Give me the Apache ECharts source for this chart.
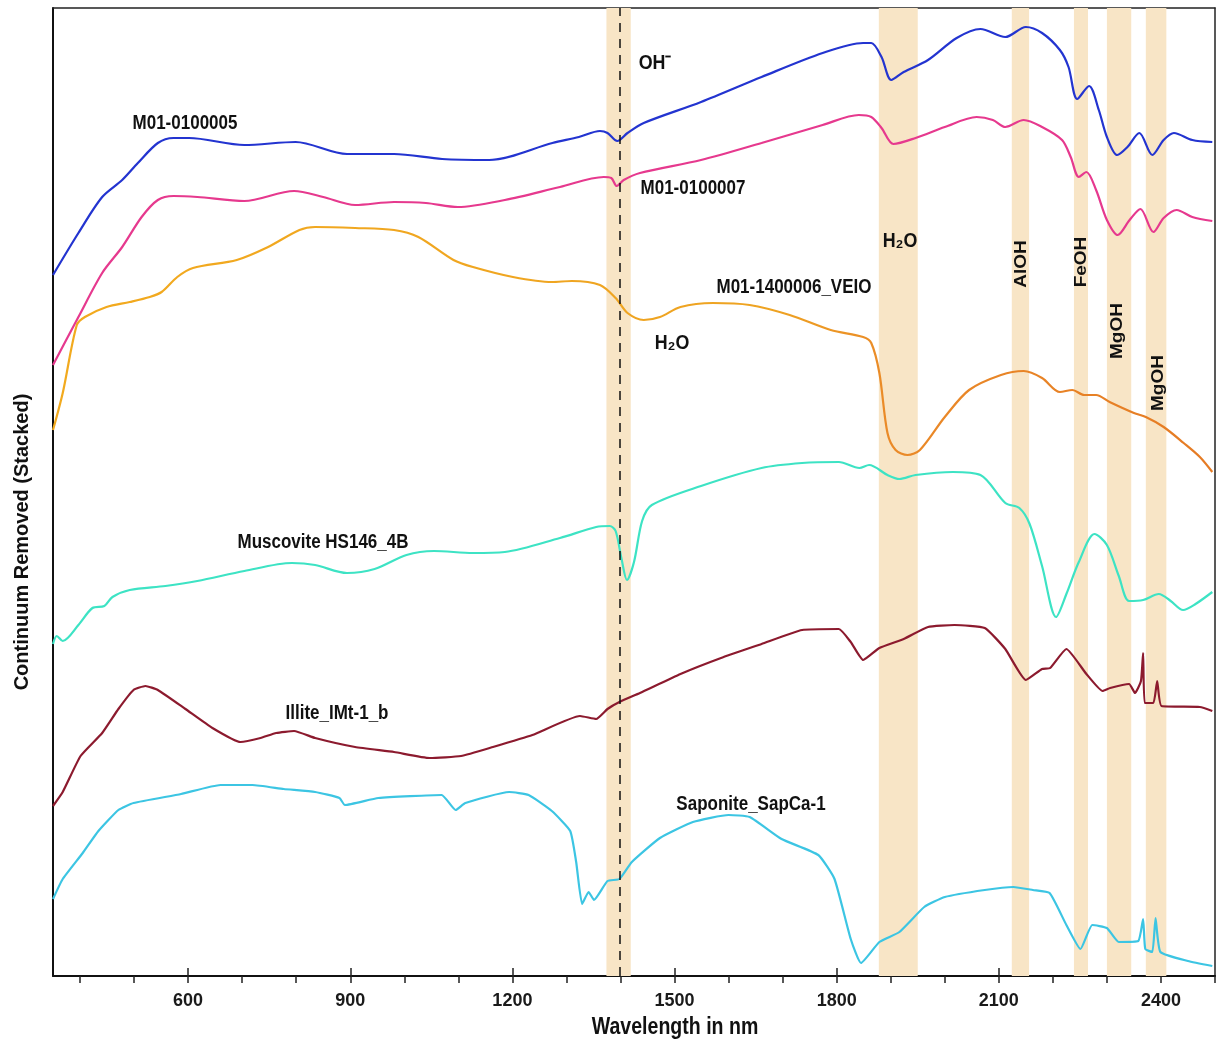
<!DOCTYPE html>
<html>
<head>
<meta charset="utf-8">
<script src="https://cdn.jsdelivr.net/npm/echarts@6/dist/echarts.min.js"></script>
<style>html,body{margin:0;padding:0;background:#fff}#c{width:1217px;height:1041px}</style>
</head>
<body>
<div id="c"></div>
<script>
// ---- data: [wavelength nm, continuum removed (stacked, arbitrary units)] ----
const m01_0100005 = [[350,69.3],[397,73.5],[441,77.1],[478,78.8],[507,80.5],[544,82.5],[573,83.0],[602,83.0],[704,82.3],[799,82.6],[894,81.4],[981,81.4],[1070,80.9],[1157,80.8],[1274,82.5],[1323,83.1],[1362,83.7],[1376,83.5],[1394,82.7],[1413,83.5],[1443,84.5],[1549,86.6],[1661,89.1],[1774,91.5],[1849,92.5],[1864,92.5],[1883,91.1],[1901,88.8],[1924,89.6],[1969,90.8],[2022,93.0],[2066,93.9],[2112,93.1],[2150,94.1],[2180,93.5],[2213,91.8],[2229,90.1],[2245,86.9],[2267,88.2],[2285,85.8],[2300,83.1],[2319,81.3],[2338,82.1],[2360,83.5],[2384,81.3],[2405,82.8],[2424,83.5],[2458,82.8],[2495,82.6]];
const m01_0100007 = [[350,60.3],[397,65.1],[441,69.5],[478,72.1],[514,75.1],[544,76.8],[573,77.2],[617,77.1],[704,76.7],[796,77.7],[850,77.1],[909,76.3],[981,76.6],[1040,76.5],[1099,76.1],[1186,76.8],[1288,78.1],[1369,79.1],[1383,79.0],[1393,78.2],[1406,78.8],[1436,79.5],[1549,80.8],[1661,82.5],[1774,84.3],[1841,85.3],[1864,85.1],[1883,84.0],[1905,82.4],[1946,83.0],[2000,84.1],[2059,85.1],[2089,84.8],[2112,84.1],[2146,84.8],[2180,84.1],[2217,82.8],[2233,81.1],[2248,79.1],[2262,79.6],[2280,77.8],[2300,74.8],[2320,73.3],[2342,74.8],[2362,75.9],[2386,73.6],[2405,75.0],[2429,75.8],[2458,75.1],[2495,74.7]];
const m01_1400006 = [[350,53.8],[368,57.5],[394,64.3],[409,65.1],[449,66.1],[492,66.6],[529,67.1],[551,67.6],[580,69.1],[609,70.0],[690,70.8],[748,72.1],[806,73.8],[835,74.1],[909,74.0],[981,73.8],[1026,73.1],[1091,70.8],[1127,70.1],[1201,69.1],[1273,68.6],[1310,68.7],[1362,68.3],[1391,67.0],[1413,65.5],[1443,64.8],[1473,65.1],[1511,66.1],[1571,66.5],[1639,66.3],[1713,65.3],[1789,63.8],[1849,63.1],[1864,62.5],[1879,59.5],[1894,53.5],[1909,51.8],[1931,51.3],[1954,51.8],[2000,55.1],[2045,57.8],[2104,59.3],[2146,59.7],[2180,59.0],[2213,57.6],[2236,57.8],[2258,57.3],[2280,57.3],[2305,56.6],[2350,55.5],[2372,55.1],[2405,54.1],[2442,52.5],[2472,51.1],[2495,49.6]];
const muscovite = [[350,32.4],[357,33.2],[368,32.7],[397,34.3],[423,36.0],[445,36.2],[460,37.1],[492,37.8],[558,38.2],[617,38.7],[704,39.7],[792,40.5],[835,40.3],[894,39.5],[945,39.9],[1004,41.3],[1055,41.7],[1127,41.5],[1186,41.6],[1288,43.0],[1355,44.1],[1380,44.2],[1391,43.7],[1402,40.9],[1412,38.8],[1425,40.6],[1440,44.7],[1458,46.3],[1549,48.2],[1661,50.0],[1736,50.5],[1804,50.6],[1842,50.0],[1860,50.3],[1894,49.3],[1916,48.9],[1946,49.3],[2015,49.6],[2066,49.3],[2112,46.5],[2138,46.0],[2157,44.4],[2180,40.2],[2206,35.1],[2225,37.4],[2248,40.6],[2277,43.4],[2300,42.3],[2322,39.2],[2341,36.7],[2367,36.8],[2396,37.4],[2418,36.7],[2441,35.8],[2464,36.4],[2495,37.6]];
const illite = [[350,16.2],[368,17.6],[401,21.2],[441,23.5],[471,25.9],[499,27.8],[521,28.2],[544,27.8],[595,25.9],[645,24.0],[697,22.6],[734,23.0],[763,23.5],[796,23.7],[835,23.0],[909,22.1],[981,21.6],[1047,21.0],[1105,21.2],[1164,22.1],[1237,23.3],[1325,25.2],[1355,24.9],[1376,25.9],[1398,26.6],[1436,27.5],[1511,29.4],[1586,31.0],[1661,32.4],[1736,33.8],[1804,33.9],[1826,32.6],[1849,30.8],[1879,32.0],[1924,32.9],[1969,34.1],[2018,34.3],[2074,34.0],[2112,31.9],[2150,28.8],[2180,29.9],[2195,30.0],[2225,31.9],[2262,29.4],[2292,27.7],[2306,28.0],[2341,28.4],[2352,27.5],[2363,28.7],[2367,31.5],[2370,26.5],[2386,26.5],[2393,28.7],[2401,26.2],[2472,26.1],[2495,25.7]];
const saponite = [[350,6.9],[368,8.9],[405,11.5],[434,13.7],[471,15.8],[499,16.5],[587,17.4],[660,18.3],[719,18.3],[777,17.9],[835,17.6],[880,17.0],[890,16.3],[952,17.0],[1069,17.3],[1095,15.8],[1113,16.5],[1194,17.6],[1230,17.3],[1273,15.7],[1307,13.7],[1318,10.6],[1329,6.4],[1341,7.6],[1351,6.8],[1376,8.7],[1398,8.9],[1421,10.6],[1473,13.0],[1534,14.6],[1600,15.3],[1639,15.1],[1698,12.9],[1766,11.3],[1796,8.9],[1826,2.9],[1845,0.5],[1879,2.6],[1916,3.6],[1962,6.1],[2000,7.1],[2074,7.8],[2127,8.1],[2163,7.8],[2194,7.5],[2225,4.3],[2251,1.9],[2273,4.3],[2300,4.0],[2322,2.6],[2358,2.7],[2367,4.9],[2371,1.9],[2384,1.6],[2390,5.0],[2399,1.6],[2450,0.7],[2495,0.2]];
// absorption feature bands (nm) and OH line
const bands = [[1374,1419],[1878,1950],[2124,2156],[2239,2265],[2300,2345],[2372,2410]];
const ohLine = 1398;
// axis ticks
const tickValues = [400,500,600,700,800,900,1000,1100,1200,1300,1400,1500,1600,1700,1800,1900,2000,2100,2200,2300,2400,2500];
const tickLabels = [600,900,1200,1500,1800,2100,2400];

const FONT = '"Liberation Sans", Arial, sans-serif';
const chart = echarts.init(document.getElementById('c'), null, {renderer:'canvas'});

function lineSeries(name, data, color, smooth, extra) {
  return Object.assign({
    name, type:'line', data, showSymbol:false, symbol:'none', smooth,
    lineStyle:{color, width:2.2}, itemStyle:{color}, z:3, silent:true,
    emphasis:{disabled:true}, animation:false
  }, extra || {});
}

function txt(text, x, y, size) {
  return {
    type:'text', x, y, scaleX:0.85, silent:true, z:20,
    style:{text, font:'bold ' + size + 'px ' + FONT, fill:'#111', textAlign:'center', textVerticalAlign:'middle'}
  };
}
function vtxt(text, x, y, size, sy) {
  return {
    type:'text', x, y, rotation:Math.PI/2, scaleY:sy, silent:true, z:20,
    style:{text, font:'bold ' + size + 'px ' + FONT, fill:'#111', textAlign:'center', textVerticalAlign:'middle'}
  };
}

const orangeGrad = new echarts.graphic.LinearGradient(0,0,1,0,[
  {offset:0,color:'#f2aa1e'},{offset:0.62,color:'#eea322'},{offset:0.72,color:'#ea8a28'},{offset:1,color:'#e57b24'}
]);

const option = {
  backgroundColor:'#ffffff',
  animation:false,
  grid:{left:53, right:2, top:8, bottom:65, containLabel:false},
  xAxis:[
    {type:'value', min:350, max:2500, position:'bottom',
     axisLine:{show:true, onZero:false, lineStyle:{color:'#111', width:2}},
     axisTick:{show:true, customValues:tickValues, length:7, lineStyle:{color:'#222', width:1.5}},
     axisLabel:{show:true, customValues:tickLabels, formatter:(v) => String(v), margin:16,
       fontSize:18, fontWeight:'bold', color:'#1a1a1a', fontFamily:FONT},
     splitLine:{show:false}},
    {type:'value', min:350, max:2500, position:'bottom',
     axisLine:{show:false},
     axisTick:{show:true, customValues:tickLabels, length:12, lineStyle:{color:'#222', width:1.5}},
     axisLabel:{show:false}, splitLine:{show:false}},
    {type:'value', min:350, max:2500, position:'top',
     axisLine:{show:true, onZero:false, lineStyle:{color:'#222', width:1.5}},
     axisTick:{show:false}, axisLabel:{show:false}, splitLine:{show:false}}
  ],
  yAxis:[
    {type:'value', min:-0.8, max:96, position:'left',
     axisLine:{show:true, onZero:false, lineStyle:{color:'#111', width:2}},
     axisTick:{show:false}, axisLabel:{show:false}, splitLine:{show:false}},
    {type:'value', min:-0.8, max:96, position:'right',
     axisLine:{show:true, onZero:false, lineStyle:{color:'#222', width:1.5}},
     axisTick:{show:false}, axisLabel:{show:false}, splitLine:{show:false}}
  ],
  series:[
    lineSeries('M01-0100005', m01_0100005, '#2334d0', 0.3, {
      markArea:{silent:true, itemStyle:{color:'#f8e5c6'}, label:{show:false},
        data: bands.map(b => [{xAxis:b[0]},{xAxis:b[1]}])},
      markLine:{silent:true, symbol:'none', label:{show:false},
        lineStyle:{color:'#111', width:1.5, type:[9,7]},
        data:[{xAxis:ohLine}]}
    }),
    lineSeries('M01-0100007', m01_0100007, '#e6398e', 0.3),
    lineSeries('M01-1400006_VEIO', m01_1400006, orangeGrad, 0.3),
    lineSeries('Muscovite HS146_4B', muscovite, '#3de3c4', 0.3),
    lineSeries('Illite_IMt-1_b', illite, '#8c1a2e', 0.15),
    lineSeries('Saponite_SapCa-1', saponite, '#3cc5e3', 0.15)
  ],
  graphic:[
    txt('M01-0100005', 185, 123, 20),
    txt('OH\u207B', 655, 63, 21),
    txt('M01-0100007', 693, 188, 20),
    txt('H\u2082O', 900, 241, 21),
    txt('M01-1400006_VEIO', 794, 287, 20),
    txt('H\u2082O', 672, 343, 21),
    vtxt('AlOH', 1021, 264, 19, 0.9),
    vtxt('FeOH', 1081, 262, 19, 0.9),
    vtxt('MgOH', 1117, 331, 19, 0.9),
    vtxt('MgOH', 1158, 383, 19, 0.9),
    txt('Muscovite HS146_4B', 323, 542, 20),
    txt('Illite_IMt-1_b', 337, 713, 20),
    txt('Saponite_SapCa-1', 751, 804, 20),
    txt('Wavelength in nm', 675, 1028, 23),
    vtxt('Continuum Removed (Stacked)', 22, 542, 20, 1)
  ]
};
chart.setOption(option);
</script>
</body>
</html>
